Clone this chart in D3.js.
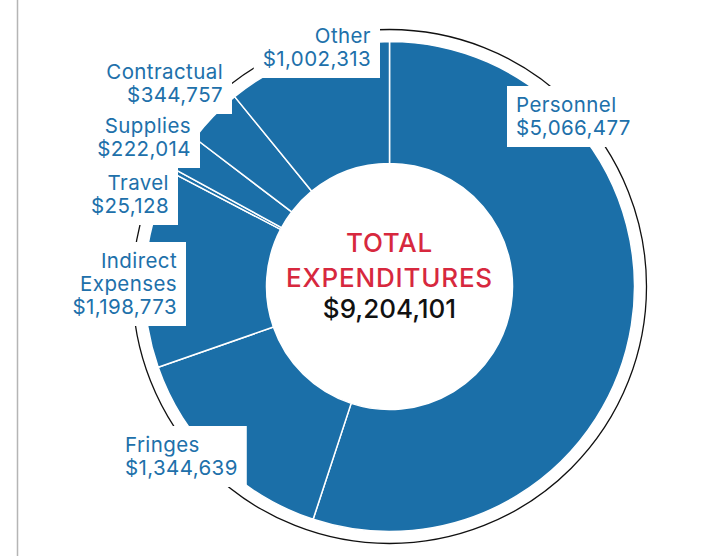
<!DOCTYPE html>
<html>
<head>
<meta charset="utf-8">
<script src="https://cdn.jsdelivr.net/npm/d3@7"></script>
<style>
  body { margin: 0; background: #fff; }
  svg { display: block; }
  text { font-family: Inter, "Noto Sans", sans-serif; }
</style>
</head>
<body>
<script>
// budget categories, clockwise from the top
var categories = ["Personnel", "Fringes", "Indirect Expenses", "Travel", "Supplies", "Contractual", "Other"];
var amounts = [5066477, 1344639, 1198773, 25128, 222014, 344757, 1002313];
var totalLabel = ["TOTAL", "EXPENDITURES"];

// hand placed label anchors (first baseline)
var labelX = [516, 125, 177, 169, 191, 223, 371];
var labelY = [112, 452, 268, 190, 133, 79, 43];
var labelAnchor = ["start", "start", "end", "end", "end", "end", "end"];

var width = 702, height = 556;
var cx = 389.5, cy = 286.5;
var outerR = 245, innerR = 123, ringR = 257;
var blue = "#1b6fa8";
var fmt = d3.format("$,");

var svg = d3.select("body")
        .append("svg")
        .attr("width", width)
        .attr("height", height);

// grey rule at the left
svg.append("line")
        .attr("x1", 17.5).attr("x2", 17.5)
        .attr("y1", 0).attr("y2", height)
        .attr("stroke", "#b5b5b5")
        .attr("stroke-width", 1.5);

var g = svg.append("g")
        .attr("transform", "translate(" + cx + "," + cy + ")");

var pie = d3.pie().sort(null).value(function(d) { return d; });
var arc = d3.arc().innerRadius(innerR).outerRadius(outerR);

g.selectAll("path")
        .data(pie(amounts))
        .enter()
        .append("path")
        .attr("d", arc)
        .attr("fill", blue)
        .attr("stroke", "#fff")
        .attr("stroke-width", 1.5)
        .attr("stroke-linejoin", "round");

// thin outer ring
g.append("circle")
        .attr("r", ringR)
        .attr("fill", "none")
        .attr("stroke", "#111")
        .attr("stroke-width", 1.3);

// centre text
var total = d3.sum(amounts);
g.selectAll("text.total")
        .data(totalLabel)
        .enter()
        .append("text")
        .attr("class", "total")
        .attr("text-anchor", "middle")
        .attr("y", function(d, i) { return -34.5 + i * 35; })
        .attr("fill", "#d7283e")
        .attr("font-size", 26)
        .attr("font-weight", 500)
        .attr("letter-spacing", 0.8)
        .text(function(d) { return d; });

g.append("text")
        .attr("text-anchor", "middle")
        .attr("y", 31.5)
        .attr("fill", "#111")
        .attr("font-size", 26)
        .attr("font-weight", 500)
        .text(fmt(total));

// labels in white boxes
var lineH = 23;
var labels = svg.selectAll("g.label")
        .data(categories)
        .enter()
        .append("g")
        .attr("class", "label");

labels.each(function(d, i) {
    var lab = d3.select(this);
    var lines = d.split(" ").concat([fmt(amounts[i])]);
    var box = lab.append("rect").attr("fill", "#fff");
    var t = lab.append("text")
            .attr("text-anchor", labelAnchor[i])
            .attr("fill", "#2070aa")
            .attr("font-size", 20.5)
            .attr("letter-spacing", 0.4);
    t.selectAll("tspan")
            .data(lines)
            .enter()
            .append("tspan")
            .attr("x", labelX[i])
            .attr("y", function(s, j) { return labelY[i] + j * lineH; })
            .text(function(s) { return s; });
    var bb = t.node().getBBox();
    box.attr("x", bb.x - 9)
            .attr("width", bb.width + 18)
            .attr("y", labelY[i] - 26)
            .attr("height", (lines.length - 1) * lineH + 38);
});
</script>
</body>
</html>
